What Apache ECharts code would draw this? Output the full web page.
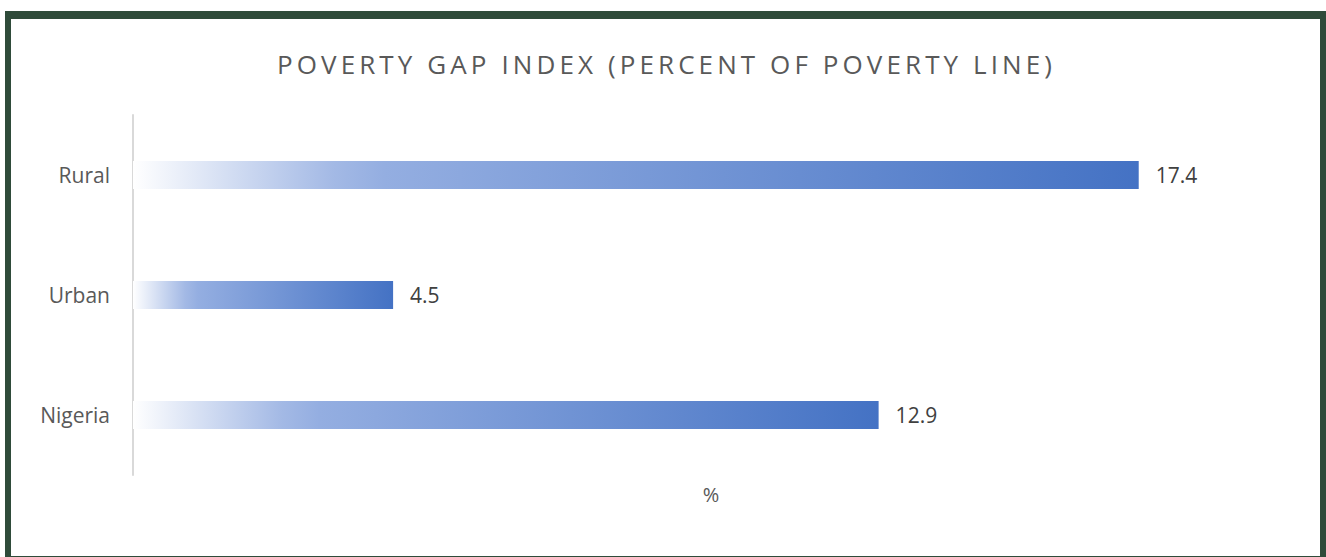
<!DOCTYPE html>
<html>
<head>
<meta charset="utf-8">
<script src="https://cdn.jsdelivr.net/npm/echarts@6/dist/echarts.min.js"></script>
<style>
html,body{margin:0;padding:0;background:#fff;overflow:hidden;}
#chart{position:absolute;left:0;top:0;width:1326px;height:557px;}
#frame{position:absolute;left:5px;top:11px;width:1309px;height:537px;border-style:solid;border-color:#2F4B3A;border-width:8px 6px 6px 6px;pointer-events:none;}
#chart text[style*="26px"]{letter-spacing:4.1px;}
</style>
</head>
<body>
<div id="chart"></div>
<div id="frame"></div>
<script>
const titleText = 'POVERTY GAP INDEX (PERCENT OF POVERTY LINE)';
const categories = ['Rural', 'Urban', 'Nigeria'];
const values = [17.4, 4.5, 12.9];
const axisName = '%';

const chart = echarts.init(document.getElementById('chart'), null, {renderer: 'svg'});
const grad = new echarts.graphic.LinearGradient(0, 0, 1, 0, [
  {offset: 0, color: '#ffffff'},
  {offset: 0.2, color: '#a3b9e5'},
  {offset: 0.25, color: '#94aee1'},
  {offset: 1, color: '#4472C4'}
]);
chart.setOption({
  animation: false,
  title: {
    text: titleText,
    left: 277,
    top: 51,
    padding: 0,
    textStyle: {fontFamily: 'Open Sans', fontSize: 26, fontWeight: 'normal', color: '#595959'}
  },
  grid: {left: 133, right: 37, top: 115, height: 360},
  xAxis: {
    type: 'value', min: 0, max: 20,
    name: axisName, nameLocation: 'middle', nameGap: 9,
    nameTextStyle: {fontFamily: 'Open Sans', fontSize: 20, color: '#595959'},
    axisLine: {show: false}, axisTick: {show: false}, axisLabel: {show: false},
    splitLine: {show: false}
  },
  yAxis: {
    type: 'category', data: categories, inverse: true,
    axisLine: {show: true, lineStyle: {color: '#d9d9d9', width: 2}},
    axisTick: {show: false},
    axisLabel: {fontFamily: 'Open Sans', fontSize: 21, color: '#595959', margin: 23}
  },
  series: [{
    type: 'bar', data: values, barWidth: 28,
    itemStyle: {color: grad},
    label: {show: true, position: 'right', distance: 17, fontFamily: 'Open Sans', fontSize: 21, color: '#404040'}
  }]
});
</script>
</body>
</html>
